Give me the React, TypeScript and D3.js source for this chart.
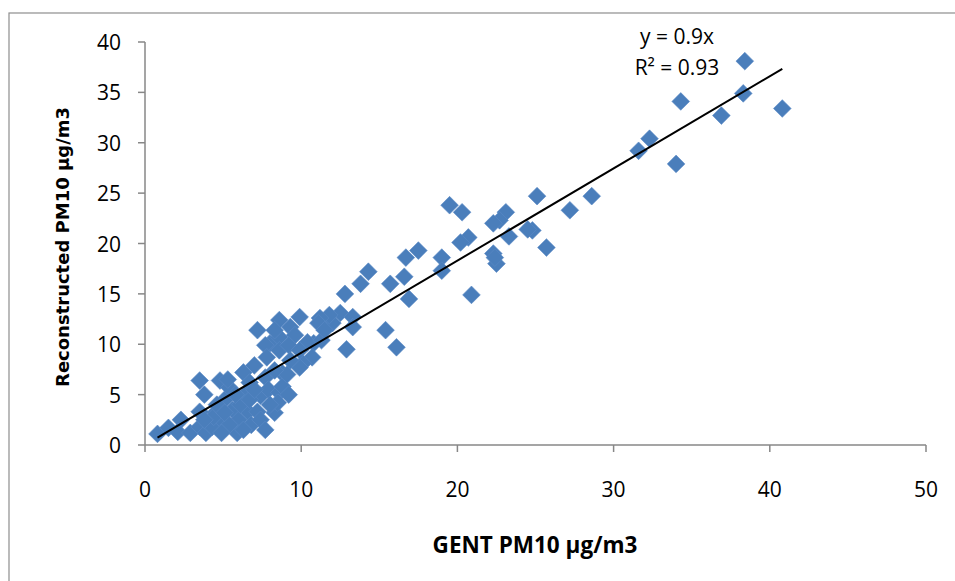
import React from "react";
import * as d3 from "d3";

const gentPM10: number[] = [
  38.4, 38.3, 40.8, 34.3, 36.9, 32.3, 31.6, 34.0,
  25.1, 28.6, 27.2, 19.5, 20.3, 23.1, 22.7, 22.3, 24.8, 24.5, 23.3, 20.7, 20.2, 25.7, 22.3, 22.5, 22.4, 19.0, 19.0, 17.5, 16.7, 16.6, 16.9, 20.9, 14.3, 13.8, 15.7, 12.8, 15.4, 16.1, 12.9,
  12.5, 13.3, 12.0, 13.3, 11.8, 11.2, 11.1, 9.9, 8.6, 7.2, 9.3, 8.0, 8.6, 10.8, 10.4, 7.7, 8.6, 7.8, 10.7, 10.1, 9.9, 8.8, 11.3, 9.6, 9.2, 8.3, 9.9, 9.3, 11.5,
  0.8, 1.5, 2.3, 2.1, 2.9, 3.5, 3.5, 3.8, 3.9, 4.3, 4.5, 4.8, 4.9, 5.1, 5.4, 5.6, 5.9, 6.0, 6.3, 6.4, 6.6, 6.7, 6.8, 7.2, 7.4, 7.7, 7.9, 8.3, 8.6, 8.8, 8.5, 9.1,
  4.4, 5.3, 4.6, 6.1, 5.4, 7.4, 8.0, 7.0, 8.3, 3.5, 3.8, 6.3, 4.9,
  5.8, 6.7, 7.7, 5.1, 7.0, 9.2,
];
const reconstructedPM10: number[] = [
  38.1, 34.9, 33.4, 34.1, 32.7, 30.4, 29.2, 27.9,
  24.7, 24.7, 23.3, 23.8, 23.1, 23.1, 22.3, 22.0, 21.3, 21.4, 20.7, 20.6, 20.1, 19.6, 19.0, 18.0, 18.6, 18.6, 17.3, 19.3, 18.6, 16.7, 14.5, 14.9, 17.2, 16.0, 16.0, 15.0, 11.4, 9.7, 9.5,
  13.1, 12.7, 12.1, 11.7, 12.9, 12.6, 12.1, 12.7, 12.4, 11.4, 11.7, 10.1, 10.7, 10.1, 10.2, 9.9, 9.4, 8.7, 8.7, 8.1, 7.7, 7.1, 10.4, 10.9, 9.9, 11.4, 9.4, 8.4, 11.4,
  1.1, 1.7, 2.5, 1.3, 1.2, 1.8, 6.4, 5.0, 1.2, 1.8, 3.2, 6.4, 2.5, 4.5, 5.7, 3.5, 1.2, 2.5, 7.2, 5.0, 3.3, 6.2, 2.0, 3.3, 4.9, 6.7, 5.5, 3.2, 5.2, 5.8, 4.2, 7.0,
  2.8, 6.5, 4.0, 4.0, 2.0, 2.5, 4.0, 7.9, 7.4, 3.3, 2.5, 1.5, 1.2,
  5.0, 4.5, 1.5, 3.2, 5.5, 5.0,
];
const xTicks: number[] = [0, 10, 20, 30, 40, 50];
const yTicks: number[] = [0, 5, 10, 15, 20, 25, 30, 35, 40];
const trendSlope = 0.915;
const equationLines: string[] = ["y = 0.9x", "R² = 0.93"];
const xTitle = "GENT PM10  µg/m3";
const yTitle = "Reconstructed PM10  µg/m3";

export default function App() {
  const W = 955;
  const H = 581;
  const x = d3.scaleLinear().domain([0, 50]).range([145, 926]);
  const y = d3.scaleLinear().domain([0, 40]).range([445, 42]);
  const pts = gentPM10.map((g, i) => [g, reconstructedPM10[i]] as [number, number]);
  const [xMin, xMax] = d3.extent(gentPM10) as [number, number];
  const trend = d3.line<number>().x((v) => x(v)).y((v) => y(v * trendSlope));
  const diamond = d3.symbol().type(d3.symbolDiamond2).size(200)();
  const axisColor = "#878787";
  const font = "'Open Sans', sans-serif";

  return (
    <svg width={W} height={H} style={{ position: "absolute", left: 0, top: 0, background: "#fff" }}>
      <rect x={9} y={13} width={960} height={600} fill="#fff" stroke="#8e8e8e" strokeWidth={1.2} />
      {/* axes */}
      <line x1={x(0)} x2={x(0)} y1={y(40)} y2={y(0)} stroke={axisColor} strokeWidth={1.5} />
      <line x1={x(0)} x2={x(50)} y1={y(0)} y2={y(0)} stroke={axisColor} strokeWidth={1.5} />
      {yTicks.map((t) => (
        <g key={"y" + t}>
          <line x1={x(0) - 7} x2={x(0)} y1={y(t)} y2={y(t)} stroke={axisColor} strokeWidth={1.5} />
          <text x={121} y={y(t) + 8} textAnchor="end" fontFamily={font} fontSize={21} fill="#000">
            {t}
          </text>
        </g>
      ))}
      {xTicks.map((t) => (
        <g key={"x" + t}>
          <line x1={x(t)} x2={x(t)} y1={y(0)} y2={y(0) + 7} stroke={axisColor} strokeWidth={1.5} />
          <text x={x(t)} y={497} textAnchor="middle" fontFamily={font} fontSize={21} fill="#000">
            {t}
          </text>
        </g>
      ))}
      {/* points */}
      {pts.map(([g, r], i) => (
        <path
          key={i}
          d={diamond}
          transform={`translate(${x(g)},${y(r)})`}
          fill="#4a7ebb"
          stroke="#5a8ac6"
          strokeWidth={0.6}
        />
      ))}
      {/* trend line */}
      <path d={trend([xMin, xMax]) || ""} fill="none" stroke="#000" strokeWidth={2} />
      {/* equation */}
      {equationLines.map((s, i) => (
        <text key={s} x={677} y={44 + i * 31} textAnchor="middle" fontFamily={font} fontSize={21} fill="#000">
          {s}
        </text>
      ))}
      {/* axis titles */}
      <text x={535} y={553} textAnchor="middle" fontFamily={font} fontWeight="bold" fontSize={22.5} fill="#000">
        {xTitle}
      </text>
      <text
        transform={`translate(69,247) rotate(-90)`}
        textAnchor="middle"
        fontFamily="'DejaVu Sans', sans-serif"
        fontWeight="bold"
        fontSize={18}
        fill="#000"
      >
        {yTitle}
      </text>
    </svg>
  );
}
